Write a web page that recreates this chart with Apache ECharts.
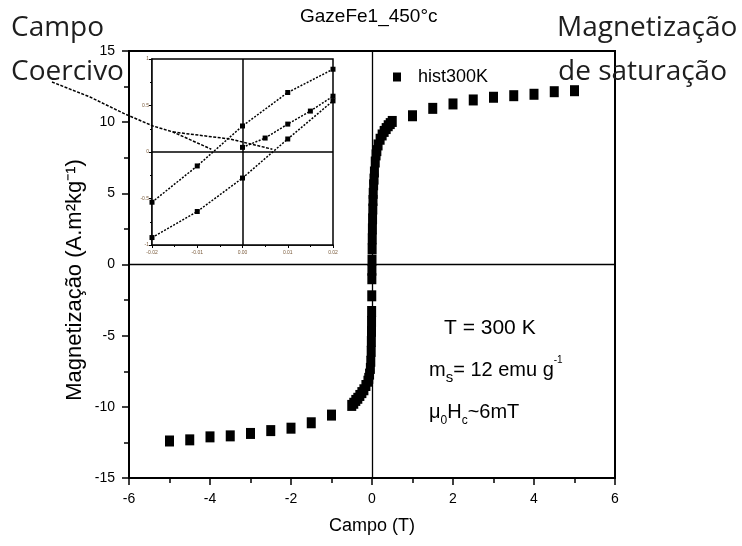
<!DOCTYPE html>
<html>
<head>
<meta charset="utf-8">
<script src="https://cdn.jsdelivr.net/npm/echarts@6/dist/echarts.min.js"></script>
<style>
  html, body { margin: 0; padding: 0; background: #fff; }
  #chart { width: 742px; height: 546px; }
</style>
</head>
<body>
<div id="chart"></div>
<script>
// ---- Hysteresis loop of GazeFe1 annealed at 450 °C, measured at 300 K ----
// High-field points, negative side (field in T, magnetization in A·m²/kg)
const fieldNeg = [-5, -4.5, -4, -3.5, -3, -2.5, -2, -1.5, -1];
const magNeg   = [-12.40, -12.32, -12.11, -12.04, -11.87, -11.67, -11.50, -11.12, -10.58];

// Dense low-field part of the loop
const fieldCore = [-0.5, -0.45, -0.4, -0.35, -0.3, -0.25, -0.2, -0.15, -0.1, -0.08,
                   -0.06, -0.04, -0.03, -0.02, -0.016, -0.013, -0.011, -0.009, -0.006, -0.004,
                   -0.002, 0, 0.003, 0.006, 0.01, 0.014, 0.02, 0.025, 0.03, 0.04,
                   0.05, 0.06, 0.08, 0.1, 0.12, 0.15, 0.2, 0.25, 0.3, 0.35,
                   0.4, 0.45, 0.5];
const magCore   = [-9.9, -9.75, -9.55, -9.4, -9.2, -9.0, -8.8, -8.5, -8.2, -8.0,
                   -7.7, -7.3, -6.8, -6.1, -5.4, -4.7, -4.0, -3.3, -2.2, -1.0,
                   -0.4, 0.3, 1.1, 1.8, 2.5, 3.2, 3.9, 4.5, 5.0, 5.6,
                   6.0, 6.5, 7.2, 7.7, 8.0, 8.4, 8.8, 9.1, 9.35, 9.55,
                   9.75, 9.9, 10.05];

// High-field points, positive side
const fieldPos = [1, 1.5, 2, 2.5, 3, 3.5, 4, 4.5, 5];
const magPos   = [10.45, 10.97, 11.28, 11.56, 11.75, 11.86, 11.96, 12.14, 12.21];

// ---- Inset: loop around zero field ----
const insetField       = [-0.02, -0.01, 0, 0.01, 0.02];
const insetUpperBranch = [-0.54, -0.15, 0.28, 0.64, 0.89];
const insetLowerBranch = [-0.92, -0.64, -0.28, 0.14, 0.55];
const virginField      = [0, 0.005, 0.01, 0.015, 0.02];
const virginBranch     = [0.05, 0.15, 0.30, 0.44, 0.60];

// Fields (T) where the two branches cross M = 0 (coercive field ~ 6 mT)
const coerciveFields = [-0.0069, 0.0066];

// Axis tick ranges
const fieldTicks = { min: -6, max: 6, step: 2 };
const magTicks   = { min: -15, max: 15, step: 5 };
const insetFieldTicks = { min: -0.02, max: 0.02, step: 0.01 };
const insetMagTicks   = { min: -1, max: 1, step: 0.5 };

const seriesName = 'hist300K';

const zip = (xs, ys) => xs.map((x, i) => [x, ys[i]]);
const loopPoints = zip(fieldNeg, magNeg).concat(zip(fieldCore, magCore), zip(fieldPos, magPos));

const FONT = '"Liberation Sans", Arial, sans-serif';
const BIG = '"Open Sans", "Noto Sans", sans-serif';

const chart = echarts.init(document.getElementById('chart'), null, { renderer: 'canvas' });

const mainAxisCommon = {
  axisLine: { show: true, onZero: false, lineStyle: { color: '#000', width: 2 } },
  axisTick: { show: true, inside: false, length: 7, lineStyle: { color: '#000', width: 1.5 } },
  minorTick: { show: true, splitNumber: 2, length: 5, lineStyle: { color: '#000', width: 1.5 } },
  splitLine: { show: false },
  minorSplitLine: { show: false },
  axisLabel: { color: '#000', fontSize: 14, fontFamily: FONT },
  nameMoveOverlap: false
};

const insetAxisCommon = {
  axisLine: { show: true, onZero: false, lineStyle: { color: '#000', width: 1.5 } },
  axisTick: { show: true, inside: false, length: 3, lineStyle: { color: '#000', width: 1 } },
  minorTick: { show: true, splitNumber: 2, length: 2, lineStyle: { color: '#000', width: 1 } },
  splitLine: { show: false },
  axisLabel: { color: '#7a5a3a', fontSize: 5, fontFamily: FONT }
};

const insetLine = (name, xs, ys) => ({
  name, type: 'line', xAxisIndex: 1, yAxisIndex: 1, z: 4,
  symbol: 'rect', symbolSize: 5, showSymbol: true,
  itemStyle: { color: '#000', opacity: 1 },
  lineStyle: { color: '#000', width: 1.5, type: [2, 1.5] },
  data: zip(xs, ys)
});

const upper = insetLine('inset-upper', insetField, insetUpperBranch);
upper.markLine = {
  silent: true, symbol: 'none', animation: false,
  label: { show: false },
  lineStyle: { color: '#000', type: 'solid', width: 1.5 },
  emphasis: { disabled: true },
  data: [{ xAxis: 0 }, { yAxis: 0 }]
};

const option = {
  animation: false,
  backgroundColor: '#fff',
  title: {
    text: 'GazeFe1_450°c',
    left: 300, top: 7, padding: 0,
    textStyle: { fontFamily: FONT, fontSize: 19, fontWeight: 'normal', color: '#000' }
  },
  legend: {
    data: [seriesName],
    left: 393, top: 68, padding: 0,
    icon: 'rect', itemWidth: 8, itemHeight: 9,
    itemStyle: { color: '#000', opacity: 1 },
    textStyle: { fontFamily: FONT, fontSize: 18, color: '#000', padding: [0, 0, 0, 12] },
    selectedMode: false
  },
  grid: [
    { left: 129, right: 127, top: 51, bottom: 68, show: true, borderColor: '#000', borderWidth: 2,
      backgroundColor: 'transparent', containLabel: false, outerBoundsMode: 'none' },
    { left: 152, top: 59, width: 181, height: 186, show: true, borderColor: '#000', borderWidth: 1.5,
      backgroundColor: '#fff', containLabel: false, outerBoundsMode: 'none', z: 3 }
  ],
  xAxis: [
    Object.assign({}, mainAxisCommon, {
      type: 'value', gridIndex: 0,
      min: fieldTicks.min, max: fieldTicks.max, interval: fieldTicks.step,
      axisLabel: Object.assign({}, mainAxisCommon.axisLabel, { margin: 14 }),
      name: 'Campo (T)', nameLocation: 'middle', nameGap: 48,
      nameTextStyle: { fontFamily: FONT, fontSize: 18, color: '#000', verticalAlign: 'middle' }
    }),
    Object.assign({}, insetAxisCommon, {
      type: 'value', gridIndex: 1,
      min: insetFieldTicks.min, max: insetFieldTicks.max, interval: insetFieldTicks.step,
      axisLabel: Object.assign({}, insetAxisCommon.axisLabel, { margin: 5, formatter: v => v.toFixed(2) })
    })
  ],
  yAxis: [
    Object.assign({}, mainAxisCommon, {
      type: 'value', gridIndex: 0,
      min: magTicks.min, max: magTicks.max, interval: magTicks.step,
      axisLabel: Object.assign({}, mainAxisCommon.axisLabel, { margin: 14 })
    }),
    Object.assign({}, insetAxisCommon, {
      type: 'value', gridIndex: 1,
      min: insetMagTicks.min, max: insetMagTicks.max, interval: insetMagTicks.step,
      axisLabel: Object.assign({}, insetAxisCommon.axisLabel, { margin: 3 })
    })
  ],
  series: [
    {
      name: seriesName, type: 'scatter', xAxisIndex: 0, yAxisIndex: 0,
      symbol: 'rect', symbolSize: [9, 11],
      itemStyle: { color: '#000', opacity: 1 },
      data: loopPoints,
      markLine: {
        silent: true, symbol: 'none', animation: false,
        label: { show: false },
        lineStyle: { color: '#000', type: 'solid', width: 1.3 },
        emphasis: { disabled: true },
        data: [{ xAxis: 0 }, { yAxis: 0 }]
      }
    },
    upper,
    insetLine('inset-lower', insetField, insetLowerBranch),
    insetLine('inset-virgin', virginField, virginBranch)
  ]
};

chart.setOption(option);

// Callout texts and the pointer from "Campo Coercivo" to the two coercive crossings
const crossL = chart.convertToPixel({ gridIndex: 1 }, [coerciveFields[0], 0.03]);
const crossR = chart.convertToPixel({ gridIndex: 1 }, [coerciveFields[1], 0.03]);
const split = [173, 132];

const bigText = (text, x, y) => ({
  type: 'text', z: 20,
  style: { text, x, y, fill: '#1e1e1e', font: '28px ' + BIG, verticalAlign: 'middle' }
});

chart.setOption({
  graphic: [
    bigText('Campo', 11, 28),
    bigText('Coercivo', 11, 72),
    bigText('Magnetização', 557, 28),
    bigText('de saturação', 558, 72),
    {
      // vertical axis title
      type: 'text', z: 20, x: 75, y: 280, rotation: Math.PI / 2,
      style: { text: 'Magnetização (A.m²kg⁻¹)', fill: '#000', font: '22px ' + FONT, align: 'center', verticalAlign: 'middle' }
    },
    {
      type: 'polyline', z: 15,
      shape: { points: [[52, 82], [90, 97], [125, 114], [153, 126], split, crossL] },
      style: { stroke: '#000', lineWidth: 1.5, lineDash: [3, 1.5], fill: null }
    },
    {
      type: 'polyline', z: 15,
      shape: { points: [split, [230, 139], crossR] },
      style: { stroke: '#000', lineWidth: 1.5, lineDash: [3, 1.5], fill: null }
    },
    {
      type: 'text', z: 20,
      style: { text: 'T = 300 K', x: 444, y: 328, fill: '#000', font: '21px ' + FONT, verticalAlign: 'middle' }
    },
    {
      type: 'text', z: 20,
      style: {
        text: '{m|m}{s|s}{m|= 12 emu g}{p|-1}',
        x: 429, y: 370, verticalAlign: 'middle',
        rich: {
          m: { fontSize: 20, fontFamily: FONT, fill: '#000', lineHeight: 30 },
          s: { fontSize: 15, fontFamily: FONT, fill: '#000', lineHeight: 30, verticalAlign: 'bottom' },
          p: { fontSize: 10, fontFamily: FONT, fill: '#000', lineHeight: 30, verticalAlign: 'top' }
        }
      }
    },
    {
      type: 'text', z: 20,
      style: {
        text: '{m|μ}{s|0}{m|H}{s|c}{m|~6mT}',
        x: 429, y: 412, verticalAlign: 'middle',
        rich: {
          m: { fontSize: 20, fontFamily: FONT, fill: '#000', lineHeight: 30 },
          s: { fontSize: 12, fontFamily: FONT, fill: '#000', lineHeight: 30, verticalAlign: 'bottom' }
        }
      }
    }
  ]
});
</script>
</body>
</html>
